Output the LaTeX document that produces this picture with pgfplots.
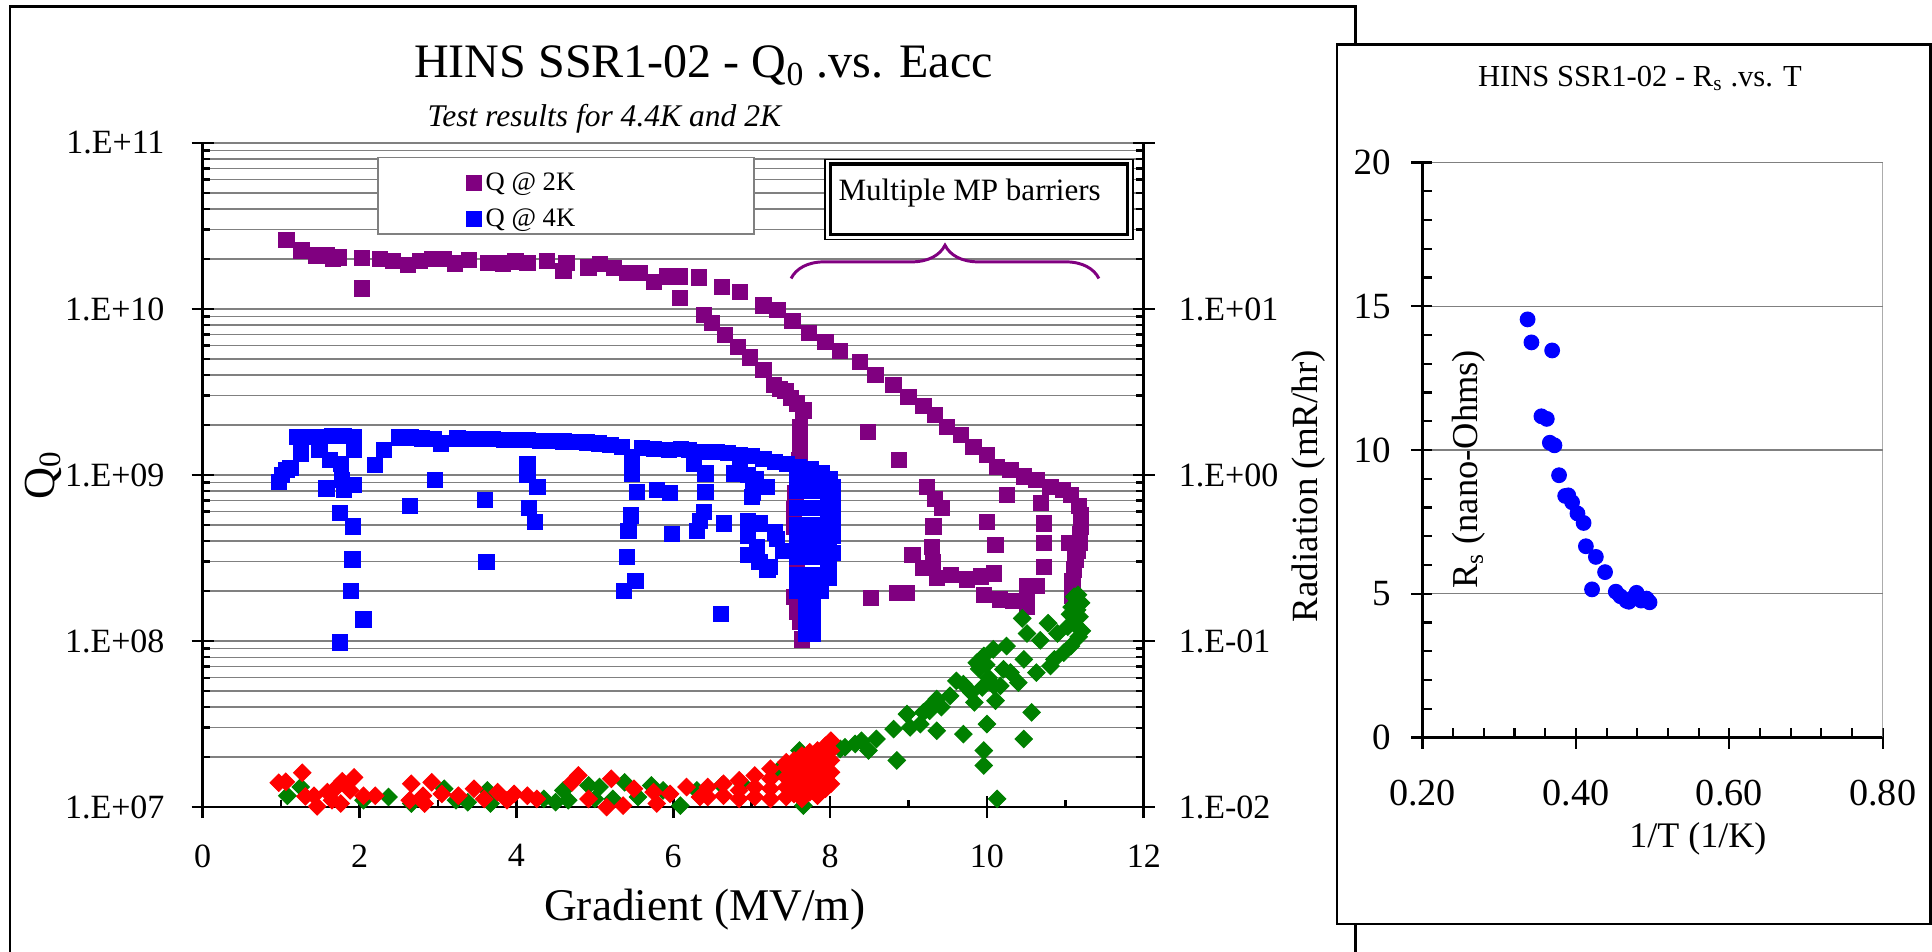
\documentclass[border=0pt]{standalone}
\usepackage{fontspec}
\setmainfont{Liberation Serif}
\usepackage{pgfplots}
\usepackage{pgfplotstable}
\pgfplotsset{compat=1.18}
\usetikzlibrary{decorations.pathreplacing}
\definecolor{qpurple}{RGB}{128,0,128}
\definecolor{qblue}{RGB}{0,0,255}
\definecolor{rred}{RGB}{255,0,0}
\definecolor{rgreen}{RGB}{0,128,0}
\definecolor{gridgray}{RGB}{128,128,128}
\newcommand{\fs}[1]{\fontsize{#1}{#1}\selectfont}

% Q0 at 2K
\pgfplotstableread{
x y
1.07 2.6e10
1.26 2.25e10
1.45 2.1e10
1.58 2.12e10
1.66 2.0e10
1.74 2.04e10
2.03 2.02e10
2.03 1.33e10
2.26 2.0e10
2.43 1.95e10
2.62 1.84e10
2.77 1.95e10
2.93 2.0e10
3.07 2.0e10
3.22 1.88e10
3.40 1.97e10
3.64 1.9e10
3.83 1.88e10
3.99 1.93e10
4.14 1.9e10
4.39 1.95e10
4.60 1.7e10
4.64 1.9e10
4.92 1.78e10
5.07 1.86e10
5.24 1.76e10
5.41 1.64e10
5.58 1.64e10
5.75 1.46e10
5.92 1.57e10
6.09 1.57e10
6.09 1.16e10
6.33 1.55e10
6.62 1.36e10
6.85 1.26e10
7.15 1.05e10
7.33 9.9e9
7.52 8.5e9
7.73 7.2e9
7.94 6.3e9
8.13 5.6e9
8.38 4.8e9
8.58 4.0e9
8.81 3.5e9
9.00 2.95e9
9.19 2.6e9
9.34 2.3e9
9.49 1.95e9
9.67 1.74e9
9.83 1.48e9
10.00 1.32e9
10.13 1.12e9
10.30 1.07e9
10.47 9.8e8
10.63 9.3e8
10.81 8.5e8
10.97 8.1e8
11.07 7.6e8
11.17 6.5e8
11.20 5.7e8
11.20 4.9e8
11.19 4.4e8
11.18 3.9e8
11.16 3.5e8
11.13 3.1e8
11.11 2.7e8
11.09 2.3e8
11.09 1.86e8
6.39 9.2e9
6.49 8.2e9
6.66 7.0e9
6.83 5.9e9
6.98 5.1e9
7.15 4.3e9
7.28 3.5e9
7.36 3.3e9
7.43 3.2e9
7.50 2.9e9
7.58 2.7e9
7.66 2.45e9
7.62 1.95e9
7.62 1.55e9
7.61 1.23e9
7.60 9.8e8
7.56 7.8e8
7.54 6.2e8
7.54 4.9e8
7.54 3.5e8
7.58 2.7e8
7.54 1.85e8
7.58 1.5e8
7.62 1.3e8
7.64 1.02e8
8.48 1.82e9
8.88 1.23e9
10.26 7.6e8
10.00 5.2e8
10.11 3.8e8
8.52 1.82e8
8.86 1.95e8
8.98 1.95e8
9.24 8.5e8
9.34 7.2e8
9.43 6.3e8
9.32 4.9e8
9.30 3.7e8
9.31 3.0e8
9.05 3.3e8
9.19 2.75e8
9.36 2.4e8
9.54 2.5e8
9.75 2.35e8
9.92 2.45e8
10.09 2.55e8
9.96 1.9e8
10.17 1.78e8
10.34 1.74e8
10.51 1.78e8
10.51 2.15e8
10.69 6.8e8
10.73 5.1e8
10.73 3.9e8
10.73 2.8e8
10.63 2.15e8
10.51 1.6e8
11.05 3.9e8
}\purpledata

% Q0 at 4K
\pgfplotstableread{
x y
1.20 1.7e9
1.35 1.7e9
1.50 1.7e9
1.65 1.72e9
1.80 1.72e9
1.93 1.7e9
2.50 1.68e9
2.65 1.68e9
2.80 1.66e9
2.95 1.65e9
3.25 1.66e9
3.40 1.65e9
3.55 1.64e9
3.70 1.64e9
3.85 1.63e9
4.00 1.62e9
4.15 1.62e9
4.30 1.6e9
4.45 1.6e9
4.60 1.59e9
4.75 1.58e9
4.90 1.57e9
5.05 1.55e9
5.20 1.52e9
5.35 1.48e9
5.60 1.45e9
5.75 1.43e9
5.95 1.42e9
6.10 1.43e9
6.20 1.42e9
6.35 1.38e9
6.55 1.37e9
6.70 1.36e9
6.85 1.32e9
7.00 1.3e9
7.15 1.25e9
7.30 1.2e9
7.45 1.16e9
7.60 1.12e9
7.75 1.08e9
7.90 1.02e9
8.00 9.5e8
0.97 9.1e8
1.01 1.0e9
1.07 1.07e9
1.12 1.1e9
1.25 1.35e9
1.49 1.41e9
1.62 1.23e9
1.76 1.17e9
1.93 1.41e9
2.20 1.15e9
2.31 1.41e9
1.58 8.3e8
1.78 9.3e8
1.80 8.1e8
1.93 8.7e8
1.75 5.9e8
1.92 4.9e8
1.91 3.1e8
1.89 2.0e8
2.05 1.35e8
1.75 9.8e7
2.64 6.5e8
2.96 9.3e8
3.04 1.55e9
3.60 7.1e8
3.62 3.0e8
4.14 1.17e9
4.14 1.0e9
4.27 8.5e8
4.16 6.3e8
4.24 5.2e8
5.47 1.29e9
5.47 1.02e9
5.54 7.9e8
5.46 5.7e8
5.43 4.6e8
5.41 3.2e8
5.52 2.3e8
5.37 2.0e8
5.79 8.1e8
5.96 7.8e8
5.98 4.4e8
6.26 1.17e9
6.41 1.02e9
6.41 7.9e8
6.39 6.0e8
6.30 4.6e8
6.34 5.3e8
6.65 5.1e8
6.61 1.45e8
6.77 1.02e9
7.02 8.9e8
7.00 7.4e8
7.11 5.1e8
7.07 3.7e8
7.23 2.8e8
7.32 4.1e8
6.85 1.07e9
6.95 1.0e9
7.05 9.5e8
7.19 8.5e8
7.02 7.8e8
6.95 5.3e8
6.95 4.3e8
6.95 3.3e8
7.10 3.0e8
7.20 2.7e8
7.30 4.5e8
7.40 3.5e8
7.58 1.0e9
7.58 8.0e8
7.58 6.3e8
7.58 5.0e8
7.58 4.0e8
7.58 3.2e8
7.58 2.5e8
7.58 2.0e8
7.68 1.0e9
7.68 8.0e8
7.68 6.3e8
7.68 5.0e8
7.68 4.0e8
7.68 3.2e8
7.68 2.5e8
7.68 2.0e8
7.78 1.0e9
7.78 8.0e8
7.78 6.3e8
7.78 5.0e8
7.78 4.0e8
7.78 3.2e8
7.78 2.5e8
7.78 2.0e8
7.88 9.5e8
7.88 8.0e8
7.88 6.3e8
7.88 5.0e8
7.88 4.0e8
7.88 3.2e8
7.88 2.5e8
7.88 2.0e8
7.98 9.0e8
7.98 7.5e8
7.98 6.0e8
7.98 4.8e8
7.98 3.8e8
7.98 3.0e8
7.98 2.4e8
8.03 8.5e8
8.03 6.8e8
8.03 5.4e8
8.03 4.3e8
8.03 3.4e8
7.70 1.6e8
7.70 1.3e8
7.70 1.1e8
7.78 1.6e8
7.78 1.3e8
7.78 1.1e8
}\bluedata

% radiation, red
\pgfplotstableread{
x y
0.97 0.0140
1.06 0.0142
1.27 0.0161
1.31 0.0116
1.46 0.0101
1.42 0.0117
1.59 0.0123
1.71 0.0132
1.78 0.0143
1.93 0.0151
1.76 0.0105
1.65 0.0110
1.88 0.0126
2.05 0.0117
2.20 0.0117
2.66 0.0138
2.64 0.0110
2.83 0.0105
2.92 0.0141
2.81 0.0117
3.05 0.0120
3.26 0.0117
3.46 0.0129
3.59 0.0112
3.76 0.0123
3.88 0.0110
3.97 0.0120
4.14 0.0117
4.26 0.0112
4.71 0.0141
4.79 0.0155
4.92 0.0112
5.15 0.0100
5.21 0.0148
5.36 0.0102
5.50 0.0129
5.75 0.0123
5.79 0.0105
5.96 0.0120
6.17 0.0132
6.34 0.0115
6.44 0.0115
6.44 0.0132
6.64 0.0117
6.64 0.0138
6.84 0.0112
6.84 0.0126
6.84 0.0145
7.04 0.0115
7.04 0.0132
7.04 0.0155
7.24 0.0112
7.24 0.0129
7.24 0.0148
7.24 0.0170
7.44 0.0115
7.44 0.0132
7.44 0.0151
7.44 0.0174
7.44 0.0186
7.54 0.0120
7.54 0.0141
7.54 0.0166
7.54 0.0191
7.64 0.0112
7.64 0.0129
7.64 0.0151
7.64 0.0178
7.64 0.0204
7.74 0.0123
7.74 0.0145
7.74 0.0170
7.74 0.0200
7.74 0.0214
7.84 0.0117
7.84 0.0135
7.84 0.0158
7.84 0.0186
7.84 0.0219
7.94 0.0129
7.94 0.0151
7.94 0.0178
7.94 0.0209
7.94 0.0234
8.01 0.0138
8.01 0.0162
8.01 0.0191
8.01 0.0219
8.01 0.0251
}\reddata

% radiation, green
\pgfplotstableread{
x y
1.08 0.0117
1.25 0.0132
2.05 0.0110
2.37 0.0115
2.66 0.0105
3.08 0.0129
3.23 0.0110
3.38 0.0107
3.63 0.0126
3.67 0.0105
4.35 0.0112
4.50 0.0107
4.60 0.0126
4.66 0.0110
4.92 0.0135
5.06 0.0132
5.00 0.0112
5.23 0.0112
5.38 0.0141
5.55 0.0115
5.72 0.0135
5.87 0.0126
6.09 0.0102
6.30 0.0126
6.62 0.0135
6.88 0.0138
7.34 0.0166
7.61 0.0219
7.66 0.0102
8.13 0.0224
8.19 0.0229
8.32 0.0240
8.40 0.0251
8.49 0.0219
8.59 0.0257
8.81 0.0295
8.85 0.0191
8.98 0.0363
9.02 0.0302
9.15 0.0316
9.19 0.0372
9.28 0.0407
9.36 0.0447
9.36 0.0288
9.53 0.0468
9.61 0.0575
9.70 0.0550
9.70 0.0275
9.80 0.0490
9.84 0.0427
9.87 0.0741
9.94 0.0525
9.96 0.0813
9.96 0.0219
9.96 0.0178
10.00 0.0316
10.08 0.0891
10.09 0.0537
10.11 0.0437
10.13 0.0112
10.17 0.0537
10.21 0.0676
10.25 0.0933
10.30 0.0646
10.40 0.0562
10.45 0.137
10.47 0.0776
10.47 0.0257
10.51 0.111
10.57 0.0372
10.63 0.0646
10.68 0.101
10.78 0.128
10.81 0.0708
10.86 0.0776
10.90 0.111
10.98 0.0851
11.03 0.122
11.07 0.0933
11.11 0.185
11.15 0.154
11.17 0.106
11.20 0.17
11.18 0.14
11.13 0.125
11.21 0.115
11.08 0.16
11.16 0.19
11.06 0.145
9.90 0.068
9.99 0.072
10.02 0.060
9.32 0.042
9.42 0.040
9.27 0.038
}\greendata

% Rs vs 1/T
\pgfplotstableread{
x y
0.337 14.54
0.342 13.74
0.369 13.46
0.355 11.17
0.362 11.08
0.366 10.25
0.372 10.16
0.378 9.12
0.386 8.40
0.390 8.42
0.395 8.18
0.402 7.79
0.410 7.46
0.413 6.65
0.426 6.28
0.421 5.15
0.438 5.75
0.452 5.07
0.458 4.91
0.466 4.75
0.469 4.72
0.474 4.85
0.479 5.03
0.485 4.76
0.492 4.83
0.496 4.70
}\rsdata

\begin{document}
\begin{tikzpicture}
\useasboundingbox (0,0) rectangle (784pt,-386pt);
% outer frame of the left chart
\draw[line width=1.1pt] (4pt,-400pt) -- (4pt,-2.5pt) -- (550pt,-2.5pt) -- (550pt,-400pt);
% frame of the right chart
\filldraw[fill=white, draw=black, line width=1pt] (542.5pt,-18pt) rectangle (783.4pt,-375pt);

% texts of the left chart
\node[anchor=base, font=\fs{19.5}] at (285.5pt,-31.5pt) {HINS SSR1-02 - Q\textsubscript{0} .vs. Eacc};
\node[anchor=base west, font=\fs{12.8}\itshape] at (170pt,-51.4pt) {Test results for 4.4K and 2K};
\node[rotate=90, font=\fs{18}] at (17.5pt,-192.75pt) {Q\textsubscript{0}};
\node[font=\fs{18.4}] at (286pt,-369pt) {Gradient (MV/m)};
\node[rotate=90, font=\fs{15}] at (531pt,-197.25pt) {Radiation (mR/hr)};

% texts of the right chart
\node[anchor=base, font=\fs{12.4}] at (665.5pt,-35pt) {HINS SSR1-02 - R\textsubscript{s} .vs. T};
\node[rotate=90, font=\fs{14.8}] at (596pt,-190.5pt) {R\textsubscript{s} (nano-Ohms)};
\node[font=\fs{14.6}] at (689pt,-340.5pt) {1/T (1/K)};

% ---------- main axis: Q0 ----------
\begin{axis}[
  at={(82.25pt,-327.5pt)}, anchor=south west,
  scale only axis, width=381.9pt, height=269.5pt,
  xmin=0, xmax=12, ymode=log, ymin=1e7, ymax=1e11,
  axis x line*=bottom, axis y line*=left,
  axis line style={line width=1.1pt},
  xtick={0,2,4,6,8,10,12}, xticklabels={0,2,4,6,8,10,12},
  minor xtick={1,3,5,7,9,11},
  ytick={1e7,1e8,1e9,1e10,1e11},
  yticklabels={1.E+07,1.E+08,1.E+09,1.E+10,1.E+11},
  minor ytick={2e7,3e7,4e7,5e7,6e7,7e7,8e7,9e7,2e8,3e8,4e8,5e8,6e8,7e8,8e8,9e8,2e9,3e9,4e9,5e9,6e9,7e9,8e9,9e9,2e10,3e10,4e10,5e10,6e10,7e10,8e10,9e10},
  ymajorgrids, yminorgrids,
  major grid style={gridgray, line width=0.5pt},
  minor grid style={gridgray, line width=0.5pt},
  tick align=inside, major tick length=4.5pt, minor tick length=3pt,
  every tick/.style={black, line width=1.1pt},
  extra y ticks={1e7,1e8,1e9,1e10,1e11}, extra y tick labels={},
  extra x ticks={0,2,4,6,8,10,12}, extra x tick labels={},
  extra tick style={tick align=outside, grid=none, major tick length=4.5pt},
  yticklabel style={font=\fs{13.8}, inner sep=0pt, xshift=-15.3pt},
  xticklabel style={font=\fs{13.8}, inner sep=0pt, yshift=-15pt},
  legend style={at={(axis description cs:0.28,0.962)}, anchor=north west,
    draw=none, fill=none, font=\fs{10.8}, row sep=3pt,
    inner sep=0pt, nodes={inner sep=1.5pt}},
  legend cell align=left,
  legend image code/.code={\draw[#1, only marks] plot coordinates {(2pt,0pt)};},
]
\filldraw[fill=white, draw=gridgray, line width=0.6pt] (rel axis cs:0.1865,0.9783) rectangle (rel axis cs:0.5858,0.8627);
\filldraw[fill=white, draw=black, line width=0.6pt] (rel axis cs:0.6613,0.9753) rectangle (rel axis cs:0.9886,0.8549);
\draw[black, line width=1.4pt] (rel axis cs:0.6671,0.9683) rectangle (rel axis cs:0.9829,0.8624);
\node[font=\fs{12.6}, anchor=base] at (rel axis cs:0.815,0.914) {Multiple MP barriers};
\draw[qpurple, line width=1.2pt, decorate, decoration={brace, amplitude=13.5pt}] (rel axis cs:0.6252,0.7959) -- (rel axis cs:0.9523,0.7959);
\addplot[only marks, mark=square*, mark size=3.1pt, color=qpurple, mark options={fill=qpurple, draw=none}] table {\purpledata};
\addlegendentry{Q @ 2K}
\addplot[only marks, mark=square*, mark size=3.1pt, color=qblue, mark options={fill=qblue, draw=none}] table {\bluedata};
\addlegendentry{Q @ 4K}
\end{axis}

% ---------- secondary axis: radiation ----------
\begin{axis}[
  at={(82.25pt,-327.5pt)}, anchor=south west,
  scale only axis, width=381.9pt, height=269.5pt,
  xmin=0, xmax=12, ymode=log, ymin=1e-2, ymax=1e2,
  axis x line=none, axis y line*=right,
  axis line style={line width=1.1pt},
  ytick={1e-2,1e-1,1,10,100},
  yticklabels={1.E-02,1.E-01,1.E+00,1.E+01,{}},
  minor ytick={2e-2,3e-2,4e-2,5e-2,6e-2,7e-2,8e-2,9e-2,0.2,0.3,0.4,0.5,0.6,0.7,0.8,0.9,2,3,4,5,6,7,8,9,20,30,40,50,60,70,80,90},
  tick align=inside, major tick length=4.5pt, minor tick length=3pt,
  every tick/.style={black, line width=1.1pt},
  extra y ticks={1e-2,1e-1,1,10,100}, extra y tick labels={},
  extra tick style={tick align=outside, grid=none, major tick length=4.5pt},
  yticklabel style={font=\fs{13.8}, inner sep=0pt, xshift=14pt},
]
\addplot[only marks, mark=square*, mark size=2.5pt, color=rgreen, mark options={fill=rgreen, draw=none, rotate=45}] table {\greendata};
\addplot[only marks, mark=square*, mark size=2.5pt, color=rred, mark options={fill=rred, draw=none, rotate=45}] table {\reddata};
\end{axis}

% ---------- right chart: Rs vs 1/T ----------
\begin{axis}[
  at={(577.25pt,-299.25pt)}, anchor=south west,
  scale only axis, width=186.75pt, height=233.35pt,
  xmin=0.2, xmax=0.8, ymin=0, ymax=20,
  axis x line*=bottom, axis y line*=left,
  axis line style={line width=0.9pt},
  xtick={0.2,0.4,0.6,0.8}, xticklabels={0.20,0.40,0.60,0.80},
  minor x tick num=4,
  ytick={0,5,10,15,20}, yticklabels={0,5,10,15,20},
  minor y tick num=4,
  ymajorgrids, major grid style={gridgray, line width=0.5pt},
  tick align=inside, major tick length=4pt, minor tick length=4pt,
  every tick/.style={black, line width=0.9pt},
  extra y ticks={0,5,10,15,20}, extra y tick labels={},
  extra x ticks={0.2,0.4,0.6,0.8}, extra x tick labels={},
  extra tick style={tick align=outside, grid=none, major tick length=4.5pt},
  yticklabel style={font=\fs{15}, inner sep=0pt, xshift=-12.75pt},
  xticklabel style={font=\fs{15.5}, inner sep=0pt, yshift=-17pt},
]
\draw[gridgray, line width=0.6pt] (rel axis cs:1,0) -- (rel axis cs:1,1);
\addplot[only marks, mark=*, mark size=3pt, color=qblue, mark options={fill=qblue, draw=none}] table {\rsdata};
\end{axis}
\end{tikzpicture}
\end{document}
